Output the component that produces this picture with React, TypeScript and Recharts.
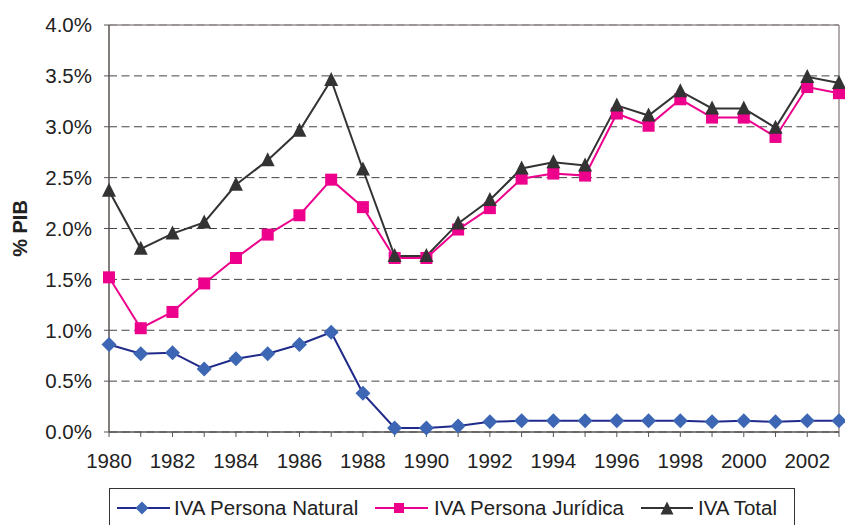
import React from 'react';
import { LineChart, Line, XAxis, YAxis, CartesianGrid, ReferenceLine } from 'recharts';

const years = [1980,1981,1982,1983,1984,1985,1986,1987,1988,1989,1990,1991,1992,1993,1994,1995,1996,1997,1998,1999,2000,2001,2002,2003];
const natural = [0.86,0.77,0.78,0.62,0.72,0.77,0.86,0.98,0.38,0.04,0.04,0.06,0.10,0.11,0.11,0.11,0.11,0.11,0.11,0.10,0.11,0.10,0.11,0.11];
const juridica = [1.52,1.02,1.18,1.46,1.71,1.94,2.13,2.48,2.21,1.71,1.71,1.99,2.20,2.49,2.54,2.52,3.13,3.01,3.27,3.09,3.09,2.90,3.39,3.33];
const total = [2.37,1.80,1.95,2.06,2.43,2.67,2.96,3.46,2.58,1.73,1.73,2.05,2.28,2.59,2.65,2.62,3.21,3.11,3.35,3.18,3.18,2.99,3.49,3.43];
const yTicks = [0,0.5,1,1.5,2,2.5,3,3.5,4];
const seriesNames = ['IVA Persona Natural','IVA Persona Jurídica','IVA Total'];

const data = years.map((y, i) => ({ year: y, natural: natural[i], juridica: juridica[i], total: total[i] }));

const FONT = '"Liberation Sans", Arial, sans-serif';
const FS = 20.5;
const C_NAT_LINE = '#1f2a8a';
const C_NAT_MARK = '#3d67b4';
const C_JUR = '#ec008c';
const C_TOT = '#333333';

const diamond = (cx: number, cy: number, r = 7.5) => `M${cx},${cy - r}L${cx + r},${cy}L${cx},${cy + r}L${cx - r},${cy}Z`;
const triangle = (cx: number, cy: number, r = 7) => `M${cx},${cy - r - 1}L${cx + r},${cy + r - 1}L${cx - r},${cy + r - 1}Z`;

const DiamondDot = (p: any) => <path key={`d${p.index}`} d={diamond(p.cx, p.cy)} fill={C_NAT_MARK} />;
const SquareDot = (p: any) => <rect key={`s${p.index}`} x={p.cx - 6} y={p.cy - 6} width={12} height={12} fill={C_JUR} />;
const TriDot = (p: any) => <path key={`t${p.index}`} d={triangle(p.cx, p.cy)} fill={C_TOT} />;

const LegendBox = () => (
  <svg width={845} height={525} style={{ position: 'absolute', left: 0, top: 0, pointerEvents: 'none' }}>
    <rect x={109.5} y={488.5} width={685} height={45} fill="#fff" stroke="#333" strokeWidth={1} />
    <line x1={117} x2={170} y1={508} y2={508} stroke={C_NAT_LINE} strokeWidth={2} />
    <path d={diamond(142, 508, 6.5)} fill={C_NAT_MARK} />
    <text x={174} y={515} fontFamily={FONT} fontSize={FS} fill="#222">{seriesNames[0]}</text>
    <line x1={375} x2={428} y1={508} y2={508} stroke={C_JUR} strokeWidth={2} />
    <rect x={394} y={503} width={10} height={10} fill={C_JUR} />
    <text x={434} y={515} fontFamily={FONT} fontSize={FS} fill="#222">{seriesNames[1]}</text>
    <line x1={641} x2={693} y1={508} y2={508} stroke={C_TOT} strokeWidth={2} />
    <path d={triangle(667, 509, 6.5)} fill={C_TOT} />
    <text x={698} y={515} fontFamily={FONT} fontSize={FS} fill="#222">{seriesNames[2]}</text>
  </svg>
);

export default function App() {
  return (
    <div style={{ position: 'absolute', left: 0, top: 0, width: 845, height: 525, background: '#fff', overflow: 'hidden' }}>
      <LineChart width={845} height={525} data={data} margin={{ top: 25, right: 6, bottom: 63, left: 19 }}>
        <CartesianGrid horizontal vertical={false} stroke="#444" strokeDasharray="8 4.5" strokeWidth={1} />
        <XAxis
          dataKey="year"
          type="number"
          domain={[1980, 2003]}
          ticks={years}
          interval={0}
          tickFormatter={(v: number) => (v % 2 === 0 ? String(v) : '')}
          tick={{ fontFamily: FONT, fontSize: FS, fill: '#222' }}
          tickLine={{ stroke: '#555' }}
          axisLine={{ stroke: '#5a5250', strokeWidth: 1.5 }}
          tickSize={5}
          tickMargin={16}
          height={30}
        />
        <YAxis
          domain={[0, 4]}
          ticks={yTicks}
          interval={0}
          tickFormatter={(v: number) => `${v.toFixed(1)}%`}
          tick={{ fontFamily: FONT, fontSize: FS, fill: '#222' }}
          tickLine={{ stroke: '#555' }}
          axisLine={{ stroke: '#5a5250', strokeWidth: 1.5 }}
          tickSize={5}
          tickMargin={12}
          width={90}
          label={{ value: '% PIB', angle: -90, position: 'insideLeft', offset: 1, style: { fontFamily: FONT, fontSize: 20, fontWeight: 'bold', fill: '#222', textAnchor: 'middle' } }}
        />
        <ReferenceLine y={4} stroke="#9a9090" strokeWidth={1.5} />
        <ReferenceLine x={2003} stroke="#9a9090" strokeWidth={1.5} />
        <Line dataKey="natural" stroke={C_NAT_LINE} strokeWidth={2} dot={DiamondDot} isAnimationActive={false} />
        <Line dataKey="juridica" stroke={C_JUR} strokeWidth={2} dot={SquareDot} isAnimationActive={false} />
        <Line dataKey="total" stroke={C_TOT} strokeWidth={2} dot={TriDot} isAnimationActive={false} />
      </LineChart>
      <LegendBox />
    </div>
  );
}
